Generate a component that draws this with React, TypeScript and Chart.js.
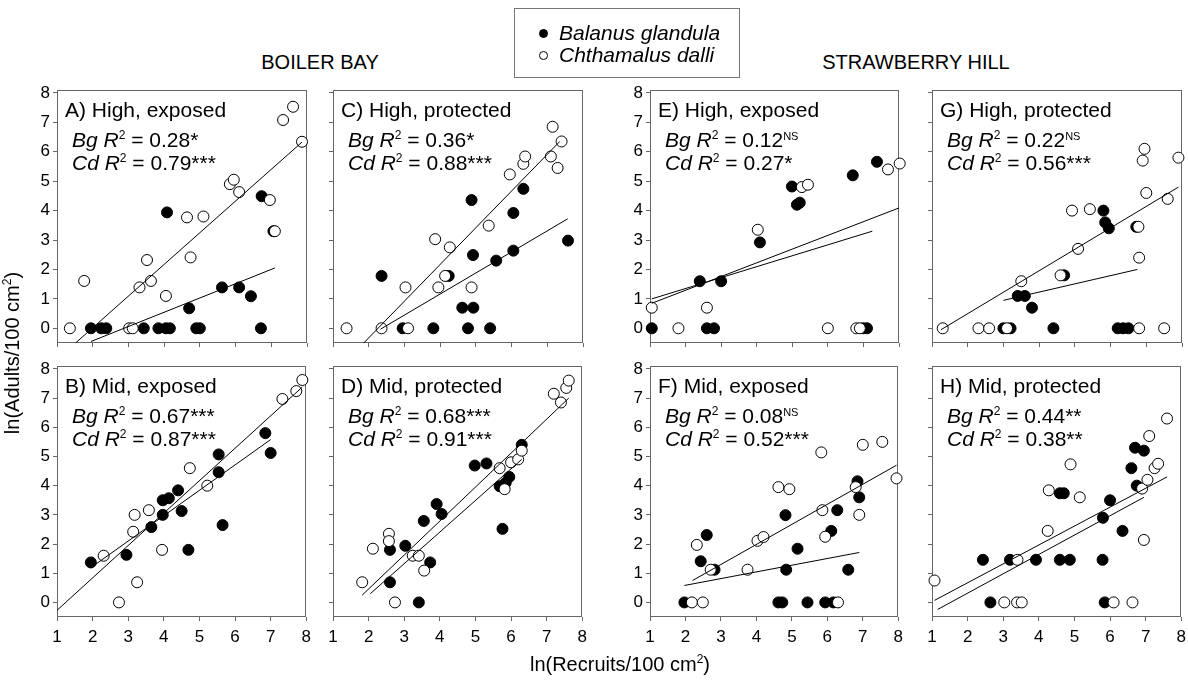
import React, { useEffect, useRef } from 'react';
import { Chart, registerables } from 'chart.js';
Chart.register(...registerables);

type P = [number, number];

const X_TICKS = [1, 2, 3, 4, 5, 6, 7, 8];
const Y_TICKS = [0, 1, 2, 3, 4, 5, 6, 7, 8];
const X_MIN = 1, X_MAX = 8, Y_MIN = -0.5, Y_MAX = 8.1;

// ---- Panel A: Boiler Bay, High, exposed
const A_bg: P[] = [[1.95,0],[2.24,0],[2.38,0],[3.43,0],[3.84,0],[4.05,0],[4.16,0],[4.9,0],[5.0,0],[6.71,0],[4.08,3.94],[4.7,0.68],[5.62,1.39],[6.1,1.39],[6.43,1.09],[6.73,4.49],[7.06,3.3]];
const A_cd: P[] = [[1.36,0],[1.76,1.61],[3.02,0],[3.12,0],[3.31,1.39],[3.52,2.32],[3.63,1.61],[4.05,1.1],[4.64,3.77],[5.1,3.8],[4.74,2.41],[5.84,4.9],[5.95,5.05],[6.1,4.63],[6.96,4.36],[7.1,3.3],[7.33,7.08],[7.61,7.53],[7.86,6.34]];
const A_bgFit: P[] = [[1.95,-0.45],[7.1,2.05]];
const A_cdFit: P[] = [[1.52,-0.5],[7.86,6.33]];

// ---- Panel B: Boiler Bay, Mid, exposed
const B_bg: P[] = [[1.95,1.37],[2.95,1.63],[3.65,2.58],[3.97,3.0],[3.97,3.5],[4.14,3.57],[4.4,3.84],[4.5,3.13],[4.69,1.8],[5.54,5.07],[5.54,4.46],[5.65,2.65],[6.85,5.8],[7.0,5.12]];
const B_cd: P[] = [[2.31,1.6],[2.74,0],[3.25,0.69],[3.14,2.42],[3.18,3.0],[3.58,3.16],[3.95,1.8],[4.73,4.6],[5.22,4.0],[7.33,6.97],[7.72,7.24],[7.89,7.62]];
const B_bgFit: P[] = [[1.95,1.19],[7.0,5.58]];
const B_cdFit: P[] = [[1.0,-0.27],[7.89,7.38]];

// ---- Panel C: Boiler Bay, High, protected
const C_bg: P[] = [[2.36,1.78],[2.95,0],[3.81,0],[4.62,0.7],[4.93,0.7],[4.78,0],[5.4,0],[4.88,4.36],[4.92,2.49],[5.57,2.3],[6.05,2.64],[6.05,3.92],[6.33,4.74],[7.58,2.98],[4.24,1.78]];
const C_cd: P[] = [[1.38,0],[2.36,0],[3.1,0],[3.03,1.39],[3.86,3.03],[4.27,2.75],[3.95,1.39],[4.14,1.78],[4.88,1.39],[5.36,3.49],[5.95,5.23],[6.33,5.59],[6.38,5.84],[7.1,5.84],[7.29,5.45],[7.15,6.85],[7.4,6.35]];
const C_bgFit: P[] = [[2.33,-0.03],[7.57,3.72]];
const C_cdFit: P[] = [[1.86,-0.5],[7.35,6.35]];

// ---- Panel D: Boiler Bay, Mid, protected
const D_bg: P[] = [[2.6,1.8],[3.03,1.94],[3.73,1.37],[2.6,0.69],[3.41,0],[3.55,2.79],[3.91,3.37],[4.05,3.03],[4.98,4.69],[5.31,4.76],[5.68,3.98],[5.76,2.52],[5.85,4.1],[5.95,4.3],[6.3,5.4]];
const D_cd: P[] = [[1.82,0.69],[2.12,1.84],[2.57,2.35],[2.57,2.1],[2.74,0],[3.24,1.6],[3.41,1.6],[3.56,1.09],[5.68,4.6],[5.82,3.88],[6.0,4.8],[6.2,4.9],[6.3,5.2],[7.2,7.15],[7.4,6.85],[7.55,7.35],[7.62,7.6]];
const D_bgFit: P[] = [[2.05,0.3],[6.3,4.9]];
const D_cdFit: P[] = [[1.82,0.25],[7.62,7.0]];

// ---- Panel E: Strawberry Hill, High, exposed
const E_bg: P[] = [[1.05,0],[2.4,1.6],[2.6,0],[2.8,0],[3.0,1.6],[4.09,2.92],[4.99,4.82],[5.13,4.2],[5.21,4.27],[6.7,5.2],[7.38,5.66],[7.0,0],[7.1,0]];
const E_cd: P[] = [[1.05,0.7],[1.8,0],[2.6,0.7],[4.03,3.35],[5.27,4.8],[5.44,4.88],[6.0,0],[6.8,0],[6.9,0],[7.69,5.4],[8.02,5.6]];
const E_bgFit: P[] = [[1.05,1.0],[7.25,3.3]];
const E_cdFit: P[] = [[1.05,0.85],[8.02,4.1]];

// ---- Panel F: Strawberry Hill, Mid, exposed
const F_bg: P[] = [[1.97,0],[2.43,1.41],[2.6,2.31],[2.82,1.12],[4.62,0],[4.73,0],[4.82,2.99],[4.84,1.12],[5.16,1.84],[5.44,0],[5.94,0],[6.17,0],[6.11,2.45],[6.28,3.16],[6.59,1.12],[6.85,4.15],[6.9,3.6]];
const F_cd: P[] = [[2.18,0],[2.49,0],[2.32,1.97],[2.71,1.12],[3.75,1.12],[4.03,2.11],[4.2,2.24],[4.62,3.95],[4.93,3.88],[5.83,5.14],[5.86,3.16],[5.94,2.25],[6.3,0],[6.8,3.95],[6.9,3.0],[7.0,5.4],[7.55,5.5],[7.95,4.25]];
const F_bgFit: P[] = [[1.97,0.58],[6.9,1.71]];
const F_cdFit: P[] = [[2.2,0.75],[7.95,4.7]];

// ---- Panel G: Strawberry Hill, High, protected
const G_bg: P[] = [[3.0,0],[3.2,0],[3.4,1.1],[3.6,1.1],[3.8,0.7],[4.4,0],[4.7,1.8],[5.8,4.0],[5.85,3.6],[5.95,3.4],[6.2,0],[6.35,0],[6.5,0],[6.72,3.45]];
const G_cd: P[] = [[1.3,0],[2.3,0],[2.6,0],[3.1,0],[3.5,1.6],[4.6,1.8],[4.92,4.0],[5.09,2.7],[5.42,4.05],[6.8,0],[6.8,2.4],[6.9,5.7],[6.95,6.1],[7.0,4.6],[7.5,0],[7.6,4.4],[7.9,5.8],[6.78,3.45]];
const G_bgFit: P[] = [[3.0,0.95],[6.75,2.0]];
const G_cdFit: P[] = [[1.25,-0.05],[7.9,4.8]];

// ---- Panel H: Strawberry Hill, Mid, protected
const H_bg: P[] = [[2.43,1.46],[2.64,0],[3.19,1.46],[3.92,1.46],[4.59,1.46],[4.87,1.46],[5.79,1.46],[5.85,0],[6.35,2.45],[4.59,3.74],[4.7,3.74],[5.8,2.9],[6.0,3.5],[6.6,4.6],[6.7,5.3],[6.75,4.0],[6.95,5.2]];
const H_cd: P[] = [[1.07,0.75],[3.03,0],[3.39,0],[3.52,0],[3.4,1.46],[4.25,2.45],[4.28,3.84],[4.89,4.73],[5.15,3.6],[6.1,0],[6.63,0],[6.95,2.14],[6.9,3.9],[7.05,4.2],[7.1,5.7],[7.25,4.6],[7.35,4.75],[7.6,6.3]];
const H_bgFit: P[] = [[1.16,-0.24],[6.95,3.6]];
const H_cdFit: P[] = [[1.07,0.07],[7.6,4.3]];

// ---- Labels and statistics
const PANEL_TITLES = ['A) High, exposed', 'C) High, protected', 'E) High, exposed', 'G) High, protected', 'B) Mid, exposed', 'D) Mid, protected', 'F) Mid, exposed', 'H) Mid, protected'];
const BG_R2 = ['0.28', '0.36', '0.12', '0.22', '0.67', '0.68', '0.08', '0.44'];
const BG_SIG = ['*', '*', 'NS', 'NS', '***', '***', 'NS', '**'];
const CD_R2 = ['0.79', '0.88', '0.27', '0.56', '0.87', '0.91', '0.52', '0.38'];
const CD_SIG = ['***', '***', '*', '***', '***', '***', '***', '**'];
const SITES = ['BOILER BAY', 'STRAWBERRY HILL'];
const SPECIES = ['Balanus glandula', 'Chthamalus dalli'];
const X_TITLE = 'ln(Recruits/100 cm';
const Y_TITLE = 'ln(Adults/100 cm';

const PANEL_DATA: { bg: P[]; cd: P[]; bgFit: P[]; cdFit: P[] }[] = [
  { bg: A_bg, cd: A_cd, bgFit: A_bgFit, cdFit: A_cdFit },
  { bg: C_bg, cd: C_cd, bgFit: C_bgFit, cdFit: C_cdFit },
  { bg: E_bg, cd: E_cd, bgFit: E_bgFit, cdFit: E_cdFit },
  { bg: G_bg, cd: G_cd, bgFit: G_bgFit, cdFit: G_cdFit },
  { bg: B_bg, cd: B_cd, bgFit: B_bgFit, cdFit: B_cdFit },
  { bg: D_bg, cd: D_cd, bgFit: D_bgFit, cdFit: D_cdFit },
  { bg: F_bg, cd: F_cd, bgFit: F_bgFit, cdFit: F_cdFit },
  { bg: H_bg, cd: H_cd, bgFit: H_bgFit, cdFit: H_cdFit },
];

// ---- Layout (pixels)
const COL_LEFT = [57, 333, 650, 932];
const COL_W = [250, 250, 249, 250];
const ROW_TOP = [90, 366];
const ROW_H = [253, 251];
const PAD_L = 45, PAD_T = 15, PAD_R = 10, PAD_B = 40;
const FONT = "'Liberation Sans', Arial, Helvetica, sans-serif";

const toPts = (a: P[]) => a.map(([x, y]) => ({ x, y }));

const framePlugin = {
  id: 'frame',
  beforeDatasetsDraw(chart: any) {
    const { ctx, chartArea: c } = chart;
    ctx.save();
    ctx.strokeStyle = '#666';
    ctx.lineWidth = 1;
    ctx.strokeRect(Math.round(c.left) + 0.5, Math.round(c.top) + 0.5, Math.round(c.right - c.left) - 1, Math.round(c.bottom - c.top) - 1);
    ctx.restore();
  },
};

function drawSegs(ctx: CanvasRenderingContext2D, x: number, y: number, segs: { t: string; f: string; dy?: number }[]) {
  for (const s of segs) {
    ctx.font = s.f;
    ctx.fillText(s.t, x, y + (s.dy || 0));
    x += ctx.measureText(s.t).width;
  }
}

const annotPlugin = {
  id: 'annot',
  afterDraw(chart: any, _args: any, opts: any) {
    const { ctx, chartArea: c } = chart;
    ctx.save();
    ctx.fillStyle = '#000';
    ctx.textBaseline = 'alphabetic';
    ctx.textAlign = 'left';
    const base = `21px ${FONT}`;
    const ital = `italic 21px ${FONT}`;
    const sup = `12px ${FONT}`;
    const sigFont = (s: string) => (s === 'NS' ? `11px ${FONT}` : `21px ${FONT}`);
    const sigDy = (s: string) => (s === 'NS' ? -7 : 0);
    drawSegs(ctx, c.left + 8, c.top + 27, [{ t: opts.title, f: base }]);
    const line = (sp: string, r2: string, sig: string, y: number) =>
      drawSegs(ctx, c.left + 15, y, [
        { t: sp, f: ital },
        { t: ' ', f: base },
        { t: 'R', f: ital },
        { t: '2', f: sup, dy: -8 },
        { t: ' = ' + r2, f: base },
        { t: sig, f: sigFont(sig), dy: sigDy(sig) },
      ]);
    line('Bg', opts.bgR2, opts.bgSig, c.top + 57);
    line('Cd', opts.cdR2, opts.cdSig, c.top + 80);
    ctx.restore();
  },
};

function Panel({ idx }: { idx: number }) {
  const ref = useRef<HTMLCanvasElement>(null);
  const col = idx % 4;
  const row = Math.floor(idx / 4);
  const L = COL_LEFT[col], T = ROW_TOP[row], W = COL_W[col], H = ROW_H[row];
  const cw = W + PAD_L + PAD_R, ch = H + PAD_T + PAD_B;
  const showY = col === 0 || col === 2;
  const showX = row === 1;

  useEffect(() => {
    const d = PANEL_DATA[idx];
    const tickFont = { size: 17, family: FONT };
    const chart = new Chart(ref.current as HTMLCanvasElement, {
      type: 'scatter',
      data: {
        datasets: [
          { data: toPts(d.bgFit), showLine: true, pointRadius: 0, borderColor: '#000', borderWidth: 1, order: 1 } as any,
          { data: toPts(d.cdFit), showLine: true, pointRadius: 0, borderColor: '#000', borderWidth: 1, order: 1 } as any,
          { data: toPts(d.cd), pointRadius: 5.5, pointBackgroundColor: '#fff', pointBorderColor: '#000', pointBorderWidth: 1, showLine: false, clip: false, order: 2 } as any,
          { data: toPts(d.bg), pointRadius: 5.5, pointBackgroundColor: '#000', pointBorderColor: '#000', pointBorderWidth: 1, showLine: false, clip: false, order: 3 } as any,
        ],
      },
      options: {
        animation: false,
        responsive: false,
        maintainAspectRatio: false,
        events: [],
        layout: { padding: { top: PAD_T, right: PAD_R, left: 0, bottom: 0 } },
        plugins: {
          legend: { display: false },
          tooltip: { enabled: false },
          annot: { title: PANEL_TITLES[idx], bgR2: BG_R2[idx], bgSig: BG_SIG[idx], cdR2: CD_R2[idx], cdSig: CD_SIG[idx] },
        } as any,
        scales: {
          x: {
            type: 'linear',
            min: X_MIN,
            max: X_MAX,
            afterBuildTicks: (s: any) => { s.ticks = X_TICKS.map((v) => ({ value: v })); },
            afterFit: (s: any) => { s.height = PAD_B; },
            grid: { drawOnChartArea: false, drawTicks: true, tickLength: 4, color: '#666' },
            border: { display: false },
            ticks: { display: showX, font: tickFont, color: '#000', padding: 6, maxRotation: 0, autoSkip: false },
          },
          y: {
            type: 'linear',
            min: Y_MIN,
            max: Y_MAX,
            afterBuildTicks: (s: any) => { s.ticks = Y_TICKS.map((v) => ({ value: v })); },
            afterFit: (s: any) => { s.width = PAD_L; },
            grid: { drawOnChartArea: false, drawTicks: true, tickLength: 4, color: '#666' },
            border: { display: false },
            ticks: { display: showY, font: tickFont, color: '#000', padding: 3, autoSkip: false },
          },
        },
      } as any,
      plugins: [framePlugin, annotPlugin],
    });
    return () => chart.destroy();
  }, [idx]);

  return (
    <canvas
      ref={ref}
      width={cw}
      height={ch}
      style={{ position: 'absolute', left: L - PAD_L, top: T - PAD_T, width: cw, height: ch }}
    />
  );
}

const dot = (filled: boolean): React.CSSProperties => ({
  position: 'absolute',
  width: 9,
  height: 9,
  borderRadius: '50%',
  border: '1px solid #000',
  background: filled ? '#000' : '#fff',
  boxSizing: 'border-box',
});

export default function App() {
  return (
    <div style={{ position: 'fixed', left: 0, top: 0, width: 1188, height: 681, background: '#fff', fontFamily: FONT, color: '#000', overflow: 'hidden' }}>
      {[0, 1, 2, 3, 4, 5, 6, 7].map((i) => <Panel key={i} idx={i} />)}
      {/* site headers */}
      <div style={{ position: 'absolute', left: 57, width: 526, top: 50, textAlign: 'center', fontSize: 20, lineHeight: '24px' }}>{SITES[0]}</div>
      <div style={{ position: 'absolute', left: 650, width: 532, top: 50, textAlign: 'center', fontSize: 20, lineHeight: '24px' }}>{SITES[1]}</div>
      {/* legend */}
      <div style={{ position: 'absolute', left: 514, top: 8, width: 226, height: 70, border: '1px solid #777', boxSizing: 'border-box' }}>
        <div style={{ ...dot(true), left: 24, top: 20 }} />
        <div style={{ ...dot(false), left: 24, top: 42 }} />
        <div style={{ position: 'absolute', left: 44, top: 12, fontSize: 21, fontStyle: 'italic', lineHeight: '24px', whiteSpace: 'nowrap' }}>{SPECIES[0]}</div>
        <div style={{ position: 'absolute', left: 44, top: 34, fontSize: 21, fontStyle: 'italic', lineHeight: '24px', whiteSpace: 'nowrap' }}>{SPECIES[1]}</div>
      </div>
      {/* axis titles */}
      <div style={{ position: 'absolute', left: 0, width: 1240, top: 652, textAlign: 'center', fontSize: 20, lineHeight: '24px', whiteSpace: 'nowrap' }}>
        {X_TITLE}<sup style={{ fontSize: 12, lineHeight: 0 }}>2</sup>)
      </div>
      <div style={{ position: 'absolute', left: 12, top: 353, width: 0, height: 0 }}>
        <div style={{ position: 'absolute', left: -120, top: -12, width: 240, textAlign: 'center', fontSize: 20, lineHeight: '24px', whiteSpace: 'nowrap', transform: 'rotate(-90deg)' }}>
          {Y_TITLE}<sup style={{ fontSize: 12, lineHeight: 0 }}>2</sup>)
        </div>
      </div>
    </div>
  );
}
